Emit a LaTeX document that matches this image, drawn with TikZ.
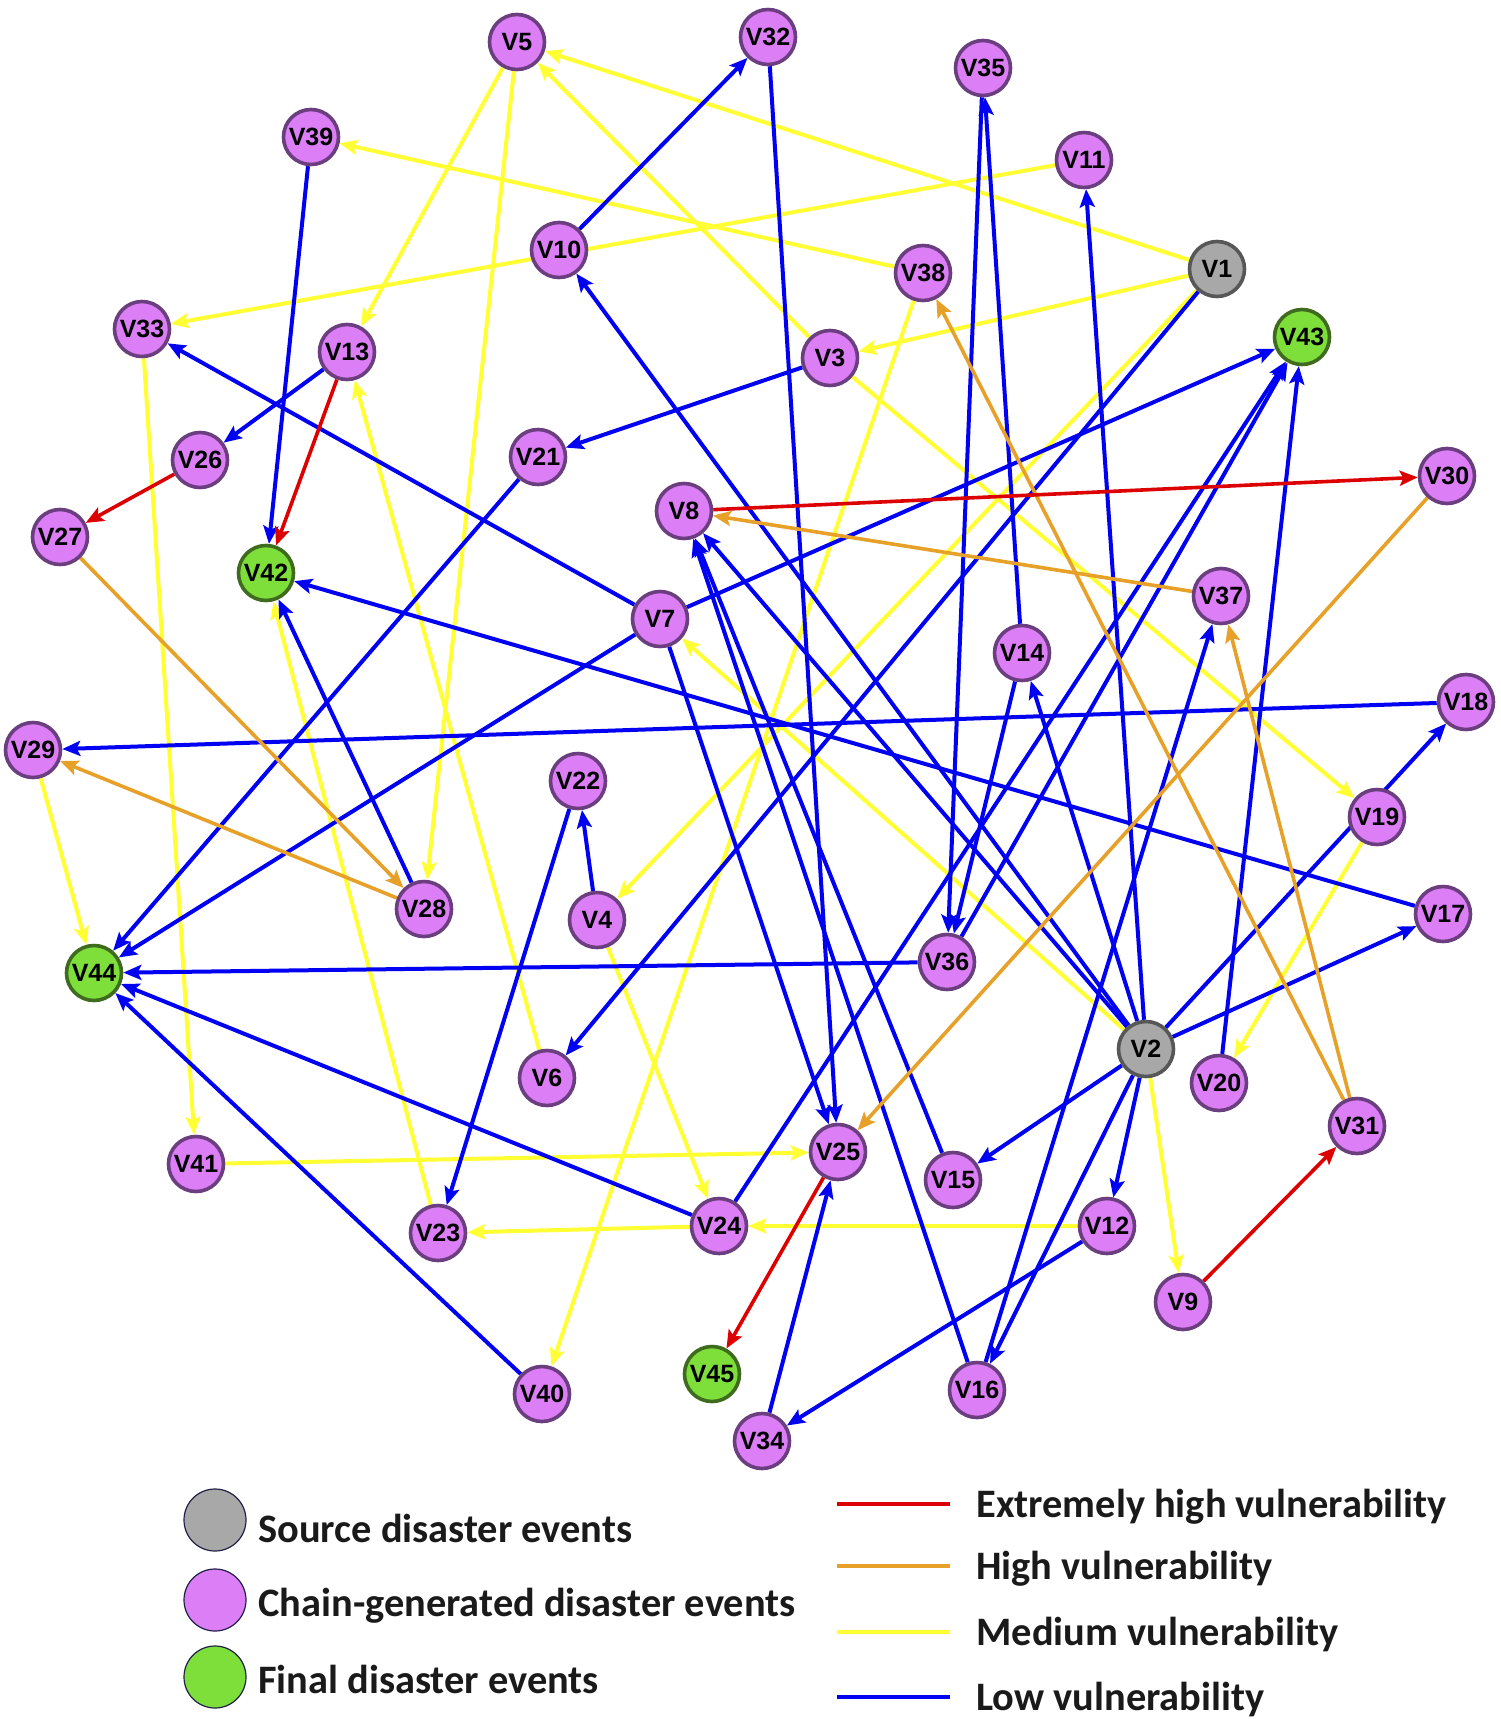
\documentclass[tikz,border=0pt]{standalone}
\usepackage{fontspec}
\setmainfont{Liberation Sans}
\newfontfamily\legfont{Carlito}
\usetikzlibrary{arrows.meta,backgrounds}
\definecolor{cblue}{HTML}{0000F2}
\definecolor{cred}{HTML}{DD0000}
\definecolor{corange}{HTML}{E8A128}
\definecolor{cyellow}{HTML}{FFFF33}
\definecolor{pfill}{HTML}{DC7EF6}
\definecolor{pborder}{HTML}{6B3F7F}
\definecolor{gfill}{HTML}{7FDF3A}
\definecolor{gborder}{HTML}{3F6B1F}
\definecolor{sfill}{HTML}{A8A8A8}
\definecolor{sborder}{HTML}{575757}
\definecolor{legtext}{HTML}{1A1A1A}
\definecolor{legborder}{HTML}{202048}
\tikzset{
  ev/.style={circle, draw=pborder, fill=pfill, line width=1.8pt, minimum size=27.5pt, inner sep=0pt, font=\bfseries\fontsize{12.5}{12.5}\selectfont},
  src/.style={ev, draw=sborder, fill=sfill},
  fin/.style={ev, draw=gborder, fill=gfill},
  lnk/.style={-{Stealth[length=9pt,width=7.5pt,inset=1.8pt]}},
  lb/.style={lnk, draw=cblue, line width=2pt},
  ly/.style={lnk, draw=cyellow, line width=2pt},
  lo/.style={lnk, draw=corange, line width=1.8pt},
  lr/.style={lnk, draw=cred, line width=1.8pt},
  legcirc/.style={circle, draw=legborder, line width=0.6pt, minimum size=31pt, inner sep=0pt},
  legtxt/.style={anchor=west, inner sep=0pt, text=legtext, font=\legfont\bfseries\fontsize{20.2}{20.2}\selectfont, text height=0.7em, text depth=0.2em},
  legline/.style={line width=2.4pt}
}
\begin{document}
\begin{tikzpicture}[x=0.5pt,y=-0.5pt]
\useasboundingbox (0,0) rectangle (1500,1719);
% nodes
\node[src] (V1) at (1217,269) {V1};
\node[src] (V2) at (1146,1049) {V2};
\node[ev] (V3) at (830,358) {V3};
\node[ev] (V4) at (597,920) {V4};
\node[ev] (V5) at (517,42) {V5};
\node[ev] (V6) at (547,1078) {V6};
\node[ev] (V7) at (660,619) {V7};
\node[ev] (V8) at (684,511) {V8};
\node[ev] (V9) at (1183,1302) {V9};
\node[ev] (V10) at (559,250) {V10};
\node[ev] (V11) at (1084,160) {V11};
\node[ev] (V12) at (1107,1226) {V12};
\node[ev] (V13) at (347,352) {V13};
\node[ev] (V14) at (1022,653) {V14};
\node[ev] (V15) at (953,1180) {V15};
\node[ev] (V16) at (977,1390) {V16};
\node[ev] (V17) at (1443,914) {V17};
\node[ev] (V18) at (1466,702) {V18};
\node[ev] (V19) at (1377,817) {V19};
\node[ev] (V20) at (1219,1083) {V20};
\node[ev] (V21) at (538,457) {V21};
\node[ev] (V22) at (578,781) {V22};
\node[ev] (V23) at (438,1233) {V23};
\node[ev] (V24) at (719,1226) {V24};
\node[ev] (V25) at (838,1152) {V25};
\node[ev] (V26) at (200,460) {V26};
\node[ev] (V27) at (60,537) {V27};
\node[ev] (V28) at (424,909) {V28};
\node[ev] (V29) at (33,750) {V29};
\node[ev] (V30) at (1447,476) {V30};
\node[ev] (V31) at (1357,1126) {V31};
\node[ev] (V32) at (768,37) {V32};
\node[ev] (V33) at (142,329) {V33};
\node[ev] (V34) at (762,1441) {V34};
\node[ev] (V35) at (983,68) {V35};
\node[ev] (V36) at (947,962) {V36};
\node[ev] (V37) at (1221,596) {V37};
\node[ev] (V38) at (923,273) {V38};
\node[ev] (V39) at (311,137) {V39};
\node[ev] (V40) at (542,1394) {V40};
\node[ev] (V41) at (196,1164) {V41};
\node[fin] (V42) at (266,573) {V42};
\node[fin] (V43) at (1302,337) {V43};
\node[fin] (V44) at (94,973) {V44};
\node[fin] (V45) at (712,1374) {V45};
% legend
\node[legcirc, fill=sfill] (Ls) at (215,1520) {};
\node[legcirc, fill=pfill] (Lc) at (215,1600) {};
\node[legcirc, fill=gfill] (Lf) at (215,1677) {};
\node[legtxt] (Ts) at (258,1537) {Source disaster events};
\node[legtxt] (Tc) at (258,1611) {Chain-generated disaster events};
\node[legtxt] (Tf) at (258,1688) {Final disaster events};
\coordinate (a1) at (837,1504); \coordinate (b1) at (950,1504);
\coordinate (a2) at (837,1566); \coordinate (b2) at (950,1566);
\coordinate (a3) at (837,1632); \coordinate (b3) at (950,1632);
\coordinate (a4) at (837,1697); \coordinate (b4) at (950,1697);
\draw[legline, cred] (a1) -- (b1);
\draw[legline, corange] (a2) -- (b2);
\draw[legline, cyellow] (a3) -- (b3);
\draw[legline, cblue] (a4) -- (b4);
\node[legtxt] (Te) at (976,1512) {Extremely high vulnerability};
\node[legtxt] (Th) at (976,1574) {High vulnerability};
\node[legtxt] (Tm) at (976,1640) {Medium vulnerability};
\node[legtxt] (Tl) at (976,1705) {Low vulnerability};
% edges
\begin{pgfonlayer}{background}
\fill[white] (0,0) rectangle (1500,1719);
% yellow
\draw[ly] (V1) -- (V5);
\draw[ly] (V3) -- (V5);
\draw[ly] (V1) -- (V3);
\draw[ly] (V38) -- (V39);
\draw[ly] (V11) -- (V33);
\draw[ly] (V5) -- (V13);
\draw[ly] (V5) -- (V28);
\draw[ly] (V3) -- (V19);
\draw[ly] (V38) -- (V40);
\draw[ly] (V1) -- (V4);
\draw[ly] (V2) -- (V7);
\draw[ly] (V2) -- (V9);
\draw[ly] (V19) -- (V20);
\draw[ly] (V29) -- (V44);
\draw[ly] (V33) -- (V41);
\draw[ly] (V41) -- (V25);
\draw[ly] (V12) -- (V24);
\draw[ly] (V24) -- (V23);
\draw[ly] (V23) -- (V42);
\draw[ly] (V6) -- (V13);
\draw[ly] (V4) -- (V24);
% blue
\draw[lb] (V10) -- (V32);
\draw[lb] (V32) -- (V25);
\draw[lb] (V14) -- (V35);
\draw[lb] (V35) -- (V36);
\draw[lb] (V14) -- (V36);
\draw[lb] (V39) -- (V42);
\draw[lb] (V2) -- (V11);
\draw[lb] (V1) -- (V6);
\draw[lb] (V2) -- (V10);
\draw[lb] (V3) -- (V21);
\draw[lb] (V21) -- (V44);
\draw[lb] (V7) -- (V33);
\draw[lb] (V13) -- (V26);
\draw[lb] (V7) -- (V43);
\draw[lb] (V7) -- (V44);
\draw[lb] (V36) -- (V43);
\draw[lb] (V24) -- (V43);
\draw[lb] (V20) -- (V43);
\draw[lb] (V17) -- (V42);
\draw[lb] (V18) -- (V29);
\draw[lb] (V2) -- (V8);
\draw[lb] (V15) -- (V8);
\draw[lb] (V16) -- (V8);
\draw[lb] (V7) -- (V25);
\draw[lb] (V28) -- (V42);
\draw[lb] (V4) -- (V22);
\draw[lb] (V22) -- (V23);
\draw[lb] (V36) -- (V44);
\draw[lb] (V24) -- (V44);
\draw[lb] (V40) -- (V44);
\draw[lb] (V2) -- (V14);
\draw[lb] (V2) -- (V15);
\draw[lb] (V2) -- (V12);
\draw[lb] (V2) -- (V16);
\draw[lb] (V2) -- (V17);
\draw[lb] (V12) -- (V34);
\draw[lb] (V34) -- (V25);
\draw[lb] (V16) -- (V37);
\draw[lb] (V2) -- (V18);
% orange
\draw[lo] (V37) -- (V8);
\draw[lo] (V31) -- (V38);
\draw[lo] (V31) -- (V37);
\draw[lo] (V30) -- (V25);
\draw[lo] (V27) -- (V28);
\draw[lo] (V28) -- (V29);
% red
\draw[lr] (V8) -- (V30);
\draw[lr] (V13) -- (V42);
\draw[lr] (V26) -- (V27);
\draw[lr] (V25) -- (V45);
\draw[lr] (V9) -- (V31);
\end{pgfonlayer}
\end{tikzpicture}
\end{document}
